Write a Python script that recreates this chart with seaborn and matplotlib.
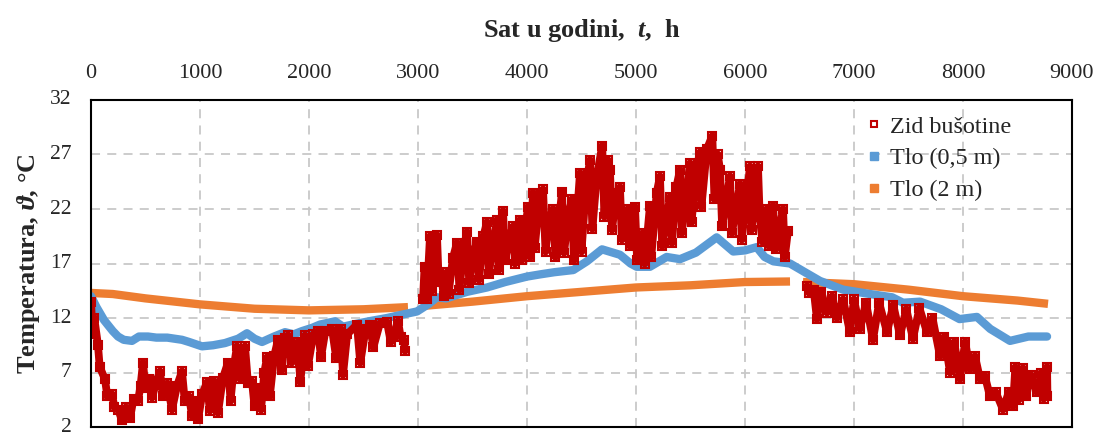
import numpy as np
import pandas as pd
import matplotlib
matplotlib.use("Agg")
import matplotlib.pyplot as plt
import seaborn as sns
from matplotlib.lines import Line2D

nan = np.nan

# ---------------- data ----------------
# Zid bušotine (borehole wall), hours / temperature; nan marks a gap in the record
red_hours = [0, 15, 30, 64, 80, 128, 150, 193, 215, 250, 284, 320, 358, 390, 431, 455, 477, 500, 530, 560,
             600, 633, 660, 700, 743, 790, 835, 860, 900, 927, 960, 982, 1020, 1064, 1090, 1130, 1165, 1210,
             1257, 1280, 1310, 1339, 1370, 1413, 1440, 1477, 1500, 1532, 1560, 1590, 1615, 1640, 1680, 1716,
             1750, 1780, 1807, 1840, 1870, 1899, 1920, 1963, 1990, 2040, 2083, 2110, 2150, 2211, 2250, 2290,
             2312, 2350, 2440, 2470, 2520, 2560, 2590, 2650, 2716, 2750, 2817, 2840, 2870, 2881,
             nan,
             3046, 3060, 3080, 3110, 3130, 3174, 3190, 3220, 3235, 3266, 3280, 3320, 3358, 3380, 3420, 3450,
             3470, 3510, 3541, 3560, 3600, 3633, 3650, 3690, 3725, 3740, 3780, 3800, 3840, 3872, 3890, 3936,
             3950, 4009, 4030, 4055, 4070, 4110, 4147, 4170, 4200, 4239, 4260, 4321, 4340, 4380, 4413, 4430,
             4486, 4500, 4540, 4578, 4600, 4640, 4690, 4710, 4740, 4761, 4780, 4820, 4853, 4870, 4927, 4945,
             4991, 5010, 5064, 5080, 5128, 5140, 5190, 5220, 5240, 5312, 5330, 5370, 5404, 5420, 5495, 5510,
             5550, 5587, 5600, 5650, 5700, 5720, 5750, 5771, 5790, 5862, 5880, 5954, 5970, 6046, 6060, 6119,
             6135, 6160, 6202, 6220, 6257, 6280, 6349, 6365, 6394,
             nan,
             6569, 6590, 6630, 6660, 6700, 6752, 6800, 6844, 6900, 6963, 7000, 7055, 7110, 7174, 7230, 7303,
             7360, 7422, 7480, 7541, 7600, 7670, 7720, 7789, 7830, 7881, 7920, 7972, 8020, 8064, 8110, 8156,
             8200, 8248, 8300, 8367, 8420, 8459, 8480, 8510, 8550, 8580, 8620, 8679, 8720, 8740, 8771, 8775]
red_temp = [13.5, 10.5, 12.0, 9.5, 7.5, 6.4, 4.8, 5.0, 3.8, 3.6, 2.6, 3.8, 2.8, 4.6, 4.4, 5.8, 7.9, 5.6, 6.4, 4.7,
            6.2, 7.1, 4.8, 6.0, 3.6, 5.8, 7.1, 4.4, 4.8, 3.0, 4.4, 2.7, 5.0, 6.1, 3.5, 6.2, 3.3, 6.5,
            7.9, 4.4, 7.5, 9.4, 6.4, 9.4, 6.0, 6.2, 3.9, 5.6, 3.6, 7.0, 8.4, 4.8, 8.5, 10.0,
            7.2, 10.2, 10.4, 7.9, 9.5, 9.8, 6.1, 10.4, 7.6, 10.5, 10.8, 8.4, 10.8, 11.0, 8.3, 11.0,
            6.8, 10.5, 11.4, 7.9, 11.0, 11.4, 9.3, 11.5, 11.6, 9.8, 11.7, 10.3, 10.0, 9.0,
            nan,
            13.7, 16.7, 13.7, 19.5, 14.5, 19.6, 15.3, 15.5, 14.0, 16.2, 14.2, 17.5, 18.9, 14.6, 18.5, 19.9,
            15.2, 18.0, 19.0, 15.5, 19.5, 20.8, 16.0, 19.0, 21.0, 16.4, 21.8, 17.3, 19.5, 20.4, 17.0, 21.0,
            17.3, 22.2, 17.6, 23.5, 18.4, 22.5, 23.8, 18.1, 21.0, 22.0, 17.6, 23.6, 18.0, 21.5, 22.9, 17.3,
            25.3, 18.1, 24.0, 26.5, 20.2, 25.0, 27.8, 21.3, 26.5, 25.6, 20.1, 23.5, 24.0, 19.2, 22.0, 18.6,
            22.2, 17.3, 19.8, 17.0, 22.3, 17.6, 23.5, 25.0, 18.6, 23.1, 18.9, 24.0, 25.6, 19.8, 26.2, 20.8,
            25.5, 27.2, 22.2, 27.5, 28.7, 22.9, 27.0, 25.6, 20.4, 25.0, 19.8, 24.3, 19.2, 25.9, 20.1, 25.9,
            21.3, 19.0, 22.0, 18.6, 22.3, 18.3, 22.0, 17.6, 20.0,
            nan,
            14.9, 14.3, 14.6, 11.9, 14.4, 12.5, 14.0, 12.0, 13.7, 10.7, 13.7, 11.0, 13.4, 10.0, 13.4, 10.7,
            13.2, 10.4, 12.8, 10.1, 12.9, 10.7, 12.0, 8.5, 10.3, 7.0, 9.8, 6.4, 9.8, 7.3, 8.5, 6.4,
            6.7, 4.8, 5.2, 3.6, 5.2, 3.9, 7.5, 4.5, 7.4, 4.8, 6.8, 5.2, 7.0, 4.6, 7.5, 4.8]

# Tlo (0,5 m)
blue_hours = [0, 50, 120, 200, 248, 300, 376, 440, 523, 600, 700, 835, 900, 1018, 1120, 1229, 1350, 1431,
              1500, 1569, 1680, 1780, 1860, 1936, 2030, 2101, 2239, 2312, 2400, 2550, 2716, 2850, 2991,
              3100, 3174, 3260, 3321, 3450, 3633, 3800, 4000, 4119, 4250, 4425, 4550, 4688, 4853, 4950,
              5006, 5128, 5281, 5404, 5550, 5740, 5892, 6000, 6107, 6180, 6260, 6413, 6550, 6688, 6900,
              7147, 7350, 7450, 7606, 7800, 7968, 8128, 8250, 8431, 8600, 8771]
blue_temp = [14.0, 13.0, 11.8, 10.8, 10.3, 10.0, 9.9, 10.3, 10.3, 10.2, 10.2, 10.0, 9.8, 9.4, 9.5, 9.7, 10.1, 10.6,
             10.1, 9.8, 10.3, 10.7, 10.5, 10.8, 11.1, 11.4, 11.7, 11.2, 11.4, 11.7, 12.0, 12.3, 12.6,
             13.3, 13.9, 13.8, 14.0, 14.4, 14.8, 15.3, 15.8, 16.0, 16.2, 16.4, 17.2, 18.3, 17.8, 17.0,
             16.7, 16.7, 17.6, 17.4, 18.0, 19.4, 18.1, 18.2, 18.5, 17.6, 17.2, 17.0, 16.2, 15.4, 14.6,
             14.2, 13.9, 13.4, 13.5, 12.8, 11.9, 12.1, 11.0, 9.9, 10.3, 10.3]

# Tlo (2 m); nan marks a gap
orange_hours = [0, 200, 500, 1000, 1500, 2000, 2500, 2908, nan,
                3037, 3500, 4000, 4500, 5000, 5500, 6000, 6413, nan,
                6532, 7000, 7500, 8000, 8500, 8780]
orange_temp = [14.3, 14.2, 13.8, 13.25, 12.85, 12.7, 12.8, 13.0, nan,
               13.1, 13.5, 14.0, 14.4, 14.8, 15.0, 15.3, 15.35, nan,
               15.3, 15.1, 14.6, 14.0, 13.6, 13.3]

series_names = ["Zid bušotine", "Tlo (0,5 m)", "Tlo (2 m)"]
x_ticks = [0, 1000, 2000, 3000, 4000, 5000, 6000, 7000, 8000, 9000]
y_ticks = [2, 7, 12, 17, 22, 27, 32]
x_title = "Sat u godini,  $t$,  h"
y_title = "Temperatura, $\\vartheta$, °C"

RED, BLUE, ORANGE = "#C00000", "#5B9BD5", "#ED7D31"


def to_frame(hours, temps):
    h = np.asarray(hours, float)
    v = np.asarray(temps, float)
    seg = np.cumsum(np.isnan(h))
    df = pd.DataFrame({"h": h, "v": v, "seg": seg})
    return df.dropna()


sns.set_theme(style="white")
plt.rcParams["font.family"] = ["Liberation Serif", "DejaVu Serif"]
plt.rcParams["mathtext.fontset"] = "custom"
plt.rcParams["mathtext.rm"] = "Liberation Serif:bold"
plt.rcParams["mathtext.it"] = "Liberation Serif:italic:bold"
plt.rcParams["mathtext.bf"] = "Liberation Serif:bold"

fig = plt.figure(figsize=(10.99, 4.36), dpi=100)
ax = fig.add_axes([91 / 1099, 9 / 436, (1072 - 91) / 1099, (427 - 100) / 436])

ax.grid(True, color="#C8C8C8", linestyle=(0, (5, 4)), linewidth=1.3)
ax.set_axisbelow(True)

df_o = to_frame(orange_hours, orange_temp)
sns.lineplot(data=df_o, x="h", y="v", units="seg", estimator=None, color=ORANGE,
             linewidth=6.0, solid_capstyle="butt", ax=ax, legend=False)

df_b = to_frame(blue_hours, blue_temp)
sns.lineplot(data=df_b, x="h", y="v", units="seg", estimator=None, color=BLUE,
             linewidth=6.0, solid_capstyle="round", ax=ax, legend=False, sort=False)

df_r = to_frame(red_hours, red_temp)
sns.lineplot(data=df_r, x="h", y="v", units="seg", estimator=None, color=RED,
             linewidth=5.6, solid_joinstyle="round", solid_capstyle="round",
             marker="s", markersize=5.5, markerfacecolor="none",
             markeredgecolor=RED, markeredgewidth=1.5, ax=ax, legend=False, sort=False)

ax.set_xlim(0, 9000)
ax.set_ylim(2, 32)
ax.set_xticks(x_ticks)
ax.set_yticks(y_ticks)
ax.xaxis.tick_top()
ax.xaxis.set_label_position("top")
ax.tick_params(axis="x", length=0, pad=12, labelsize=16)
ax.tick_params(axis="y", length=0, pad=14, labelsize=15.5)
for lab in ax.get_yticklabels():
    lab.set_verticalalignment("center")
ax.set_xlabel(x_title, fontsize=19, fontweight="bold", labelpad=20)
ax.set_ylabel(y_title, fontsize=19, fontweight="bold", labelpad=6)

for s in ax.spines.values():
    s.set_visible(True)
    s.set_color("black")
    s.set_linewidth(1.5)

handles = [
    Line2D([], [], linestyle="none", marker="s", markersize=5, markerfacecolor="white",
           markeredgecolor=RED, markeredgewidth=1.5),
    Line2D([], [], linestyle="none", marker="s", markersize=6, color=BLUE),
    Line2D([], [], linestyle="none", marker="s", markersize=6, color=ORANGE),
]
fig.legend(handles, series_names, loc="upper left", bbox_to_anchor=(867 / 1099, 1 - 116 / 436),
           frameon=False, fontsize=17.4, handlelength=0.6, handletextpad=0.35, labelspacing=0.4,
           borderpad=0, borderaxespad=0)

fig.savefig("out.png", dpi=100)
